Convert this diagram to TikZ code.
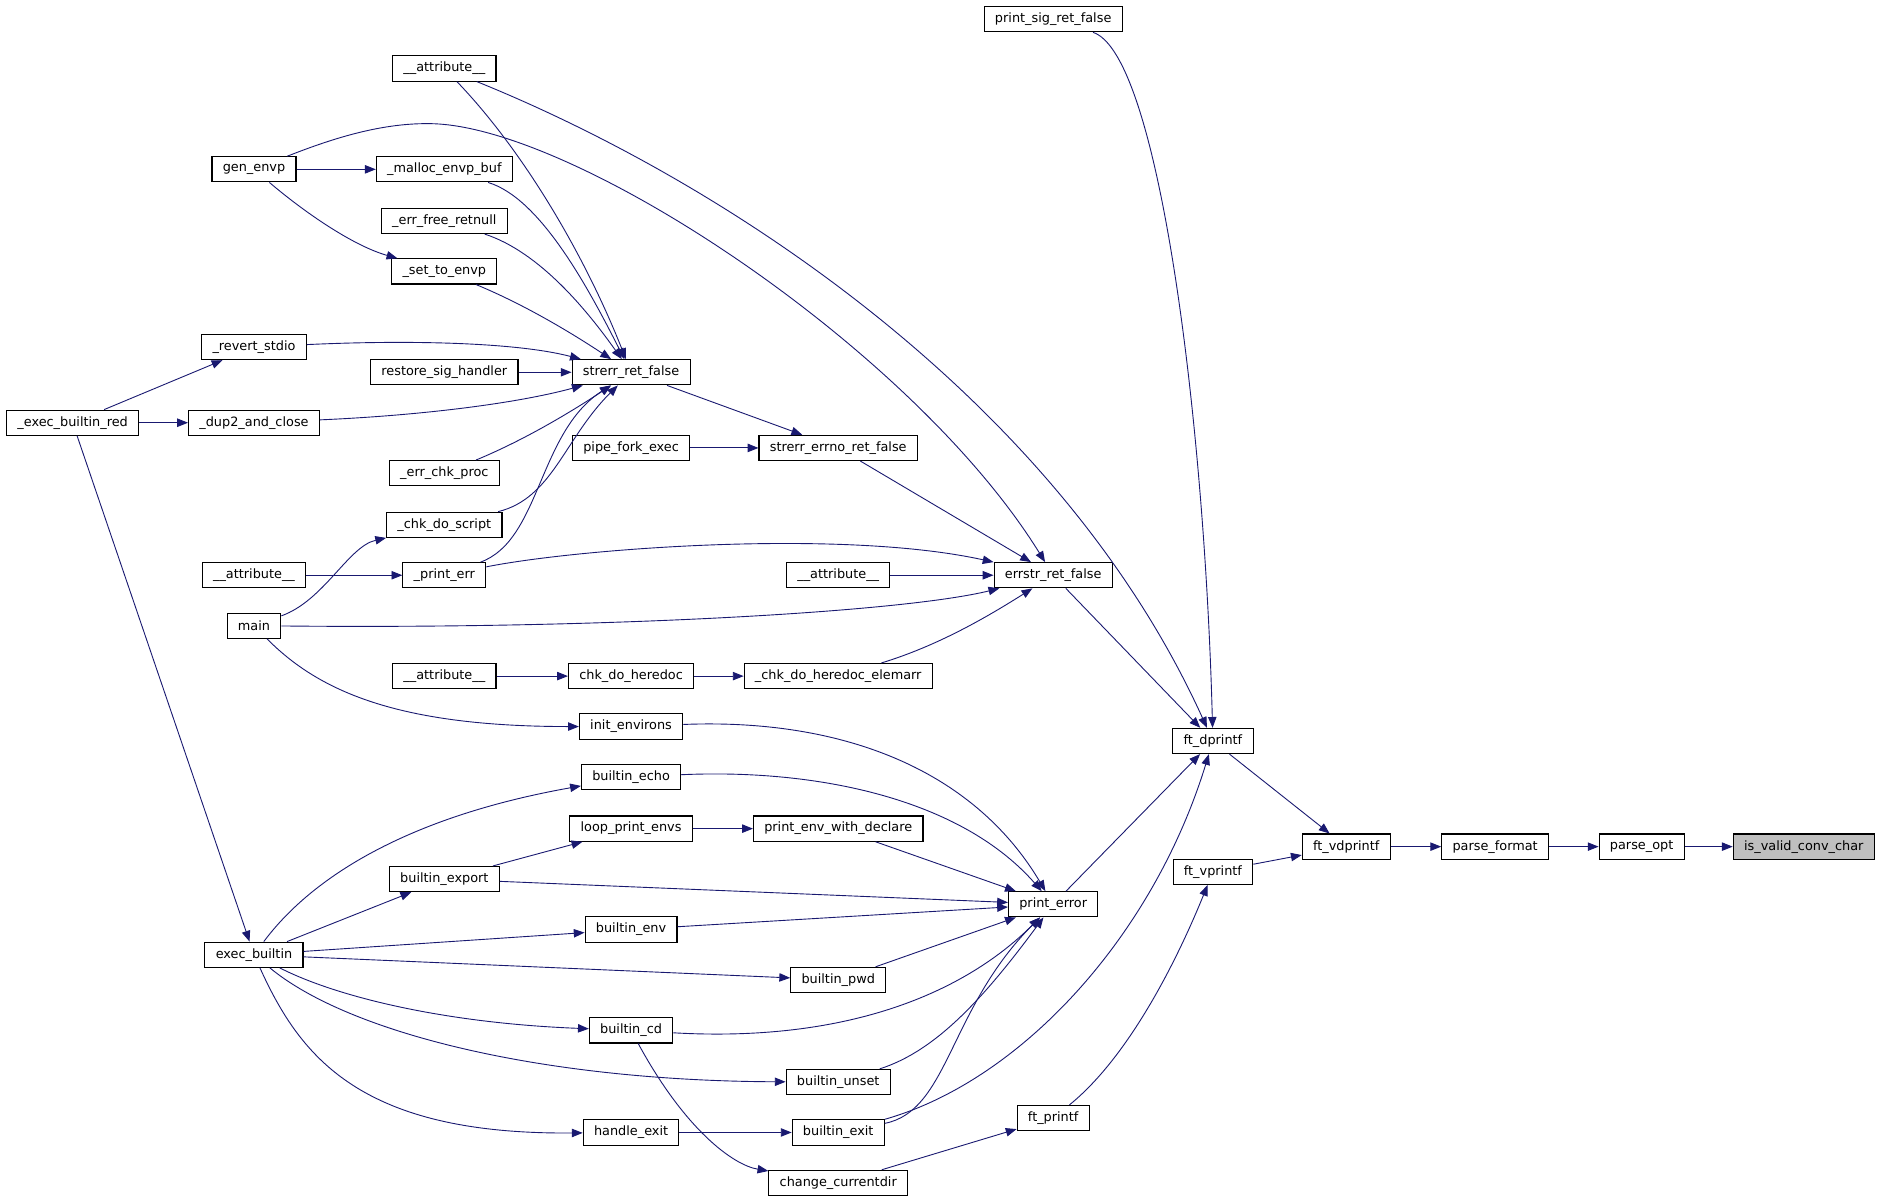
\documentclass[tikz,border=0pt]{standalone}
\usepackage{fontspec}
\setmainfont{DejaVu Sans}
\usepackage{tikz}
\usetikzlibrary{arrows.meta,positioning}
\definecolor{edgeblue}{HTML}{191970}
\definecolor{focusgray}{HTML}{BFBFBF}

\begin{document}
\begin{tikzpicture}[
    x=1pt, y=-1pt,
    block/.style={
        rectangle,
        draw=black,
        line width=0.9pt,
        fill=white,
        minimum height=21pt,
        inner xsep=9pt,
        inner ysep=0pt,
        font=\fontsize{10.7pt}{12pt}\selectfont
    },
    arrow/.style={-{Triangle[length=9pt,width=7pt]},draw=edgeblue,line width=0.75pt}
]
    \useasboundingbox (0,0) rectangle (1568,1002);

    % Nodes
    \node[block] (printsig) at (877,16) {print\_sig\_ret\_false};
    \node[block] (attrA) at (370,57) {\_\_attribute\_\_};
    \node[block] (genenvp) at (211.5,141) {gen\_envp};
    \node[block] (mallocbuf) at (370,141) {\_malloc\_envp\_buf};
    \node[block] (errfree) at (370,184) {\_err\_free\_retnull};
    \node[block] (settoenvp) at (370,226) {\_set\_to\_envp};
    \node[block] (revert) at (211.5,289) {\_revert\_stdio};
    \node[block] (restoresig) at (370,310) {restore\_sig\_handler};
    \node[block] (strerr) at (525.5,310) {strerr\_ret\_false};
    \node[block] (execred) at (60.5,352) {\_exec\_builtin\_red};
    \node[block] (dupclose) at (211.5,352) {\_dup2\_and\_close};
    \node[block] (pipefork) at (525.5,373) {pipe\_fork\_exec};
    \node[block] (strerrno) at (698,373) {strerr\_errno\_ret\_false};
    \node[block] (errchk) at (370,394) {\_err\_chk\_proc};
    \node[block] (chkscript) at (370,437) {\_chk\_do\_script};
    \node[block] (attrB) at (211.5,479) {\_\_attribute\_\_};
    \node[block] (printerr) at (370,479) {\_print\_err};
    \node[block] (attrC) at (698,479) {\_\_attribute\_\_};
    \node[block] (errstr) at (877,479) {errstr\_ret\_false};
    \node[block] (main) at (211.5,521) {main};
    \node[block] (attrD) at (370,563) {\_\_attribute\_\_};
    \node[block] (heredoc) at (525.5,563) {chk\_do\_heredoc};
    \node[block] (elemarr) at (698,563) {\_chk\_do\_heredoc\_elemarr};
    \node[block] (initenv) at (525.5,605) {init\_environs};
    \node[block] (ftdprintf) at (1010,617) {ft\_dprintf};
    \node[block] (echo) at (525.5,647) {builtin\_echo};
    \node[block] (loopenvs) at (525.5,690) {loop\_print\_envs};
    \node[block] (printdecl) at (698,690) {print\_env\_with\_declare};
    \node[block] (ftvdprintf) at (1121,705) {ft\_vdprintf};
    \node[block] (parsefmt) at (1245,705) {parse\_format};
    \node[block] (parseopt) at (1367,705) {parse\_opt};
    \node[block,fill=focusgray] (isvalid) at (1502,705) {is\_valid\_conv\_char};
    \node[block] (ftvprintf) at (1010,726) {ft\_vprintf};
    \node[block] (export) at (370,732) {builtin\_export};
    \node[block] (printerror) at (877,753) {print\_error};
    \node[block] (env) at (525.5,774) {builtin\_env};
    \node[block] (execbuiltin) at (211.5,795) {exec\_builtin};
    \node[block] (pwd) at (698,816) {builtin\_pwd};
    \node[block] (cd) at (525.5,858) {builtin\_cd};
    \node[block] (unset) at (698,901) {builtin\_unset};
    \node[block] (ftprintf) at (877,931) {ft\_printf};
    \node[block] (handleexit) at (525.5,943) {handle\_exit};
    \node[block] (exit) at (698,943) {builtin\_exit};
    \node[block] (changedir) at (698,985) {change\_currentdir};

    % Arrows
    \draw[arrow] (parseopt) -- (isvalid);
    \draw[arrow] (parsefmt) -- (parseopt);
    \draw[arrow] (ftvdprintf) -- (parsefmt);
    \draw[arrow] (ftdprintf) -- (ftvdprintf);
    \draw[arrow] (ftvprintf) -- (ftvdprintf);
    \draw[arrow] (ftprintf) .. controls (940,880) and (980,800) .. (ftvprintf);
    \draw[arrow] (printsig) .. controls (965,45) and (1003,350) .. (ftdprintf);
    \draw[arrow] (attrA) .. controls (600,150) and (880,330) .. (ftdprintf);
    \draw[arrow] (errstr) -- (ftdprintf);
    \draw[arrow] (printerror) -- (ftdprintf);
    \draw[arrow] (exit) .. controls (850,900) and (960,780) .. (ftdprintf);
    \draw[arrow] (genenvp) .. controls (280,114) and (320,102) .. (360,103)
        .. controls (480,106) and (760,290) .. (errstr);
    \draw[arrow] (strerrno) -- (errstr);
    \draw[arrow] (printerr) .. controls (480,457) and (700,440) .. (errstr);
    \draw[arrow] (attrC) -- (errstr);
    \draw[arrow] (main) .. controls (500,524) and (750,510) .. (errstr);
    \draw[arrow] (elemarr) .. controls (780,538) and (820,515) .. (errstr);
    \draw[arrow] (strerr) -- (strerrno);
    \draw[arrow] (pipefork) -- (strerrno);
    \draw[arrow] (attrA) .. controls (440,130) and (490,220) .. (strerr);
    \draw[arrow] (mallocbuf) .. controls (450,165) and (490,240) .. (strerr);
    \draw[arrow] (errfree) .. controls (450,210) and (490,260) .. (strerr);
    \draw[arrow] (settoenvp) .. controls (440,255) and (480,280) .. (strerr);
    \draw[arrow] (revert) .. controls (340,283) and (430,285) .. (strerr);
    \draw[arrow] (restoresig) -- (strerr);
    \draw[arrow] (dupclose) .. controls (350,346) and (430,336) .. (strerr);
    \draw[arrow] (errchk) .. controls (440,365) and (480,340) .. (strerr);
    \draw[arrow] (chkscript) .. controls (460,415) and (470,365) .. (strerr);
    \draw[arrow] (printerr) .. controls (450,450) and (448,360) .. (strerr);
    \draw[arrow] (genenvp) -- (mallocbuf);
    \draw[arrow] (genenvp) .. controls (255,178) and (295,205) .. (settoenvp);
    \draw[arrow] (execred) -- (revert);
    \draw[arrow] (execred) -- (dupclose);
    \draw[arrow] (execred) -- (execbuiltin);
    \draw[arrow] (attrB) -- (printerr);
    \draw[arrow] (main) .. controls (270,500) and (290,455) .. (chkscript);
    \draw[arrow] (attrD) -- (heredoc);
    \draw[arrow] (heredoc) -- (elemarr);
    \draw[arrow] (main) .. controls (265,575) and (330,605) .. (initenv);
    \draw[arrow] (initenv) .. controls (700,598) and (810,640) .. (printerror);
    \draw[arrow] (echo) .. controls (680,640) and (800,665) .. (printerror);
    \draw[arrow] (printdecl) -- (printerror);
    \draw[arrow] (export) -- (printerror);
    \draw[arrow] (env) -- (printerror);
    \draw[arrow] (pwd) -- (printerror);
    \draw[arrow] (cd) .. controls (700,868) and (800,830) .. (printerror);
    \draw[arrow] (unset) .. controls (780,875) and (820,830) .. (printerror);
    \draw[arrow] (exit) .. controls (790,925) and (790,840) .. (printerror);
    \draw[arrow] (execbuiltin) .. controls (260,730) and (340,680) .. (echo);
    \draw[arrow] (execbuiltin) -- (export);
    \draw[arrow] (export) -- (loopenvs);
    \draw[arrow] (loopenvs) -- (printdecl);
    \draw[arrow] (execbuiltin) -- (env);
    \draw[arrow] (execbuiltin) -- (pwd);
    \draw[arrow] (execbuiltin) .. controls (280,830) and (370,852) .. (cd);
    \draw[arrow] (execbuiltin) .. controls (290,860) and (450,900) .. (unset);
    \draw[arrow] (execbuiltin) .. controls (250,880) and (300,945) .. (handleexit);
    \draw[arrow] (handleexit) -- (exit);
    \draw[arrow] (cd) .. controls (570,940) and (610,970) .. (changedir);
    \draw[arrow] (changedir) -- (ftprintf);
\end{tikzpicture}
\end{document}
